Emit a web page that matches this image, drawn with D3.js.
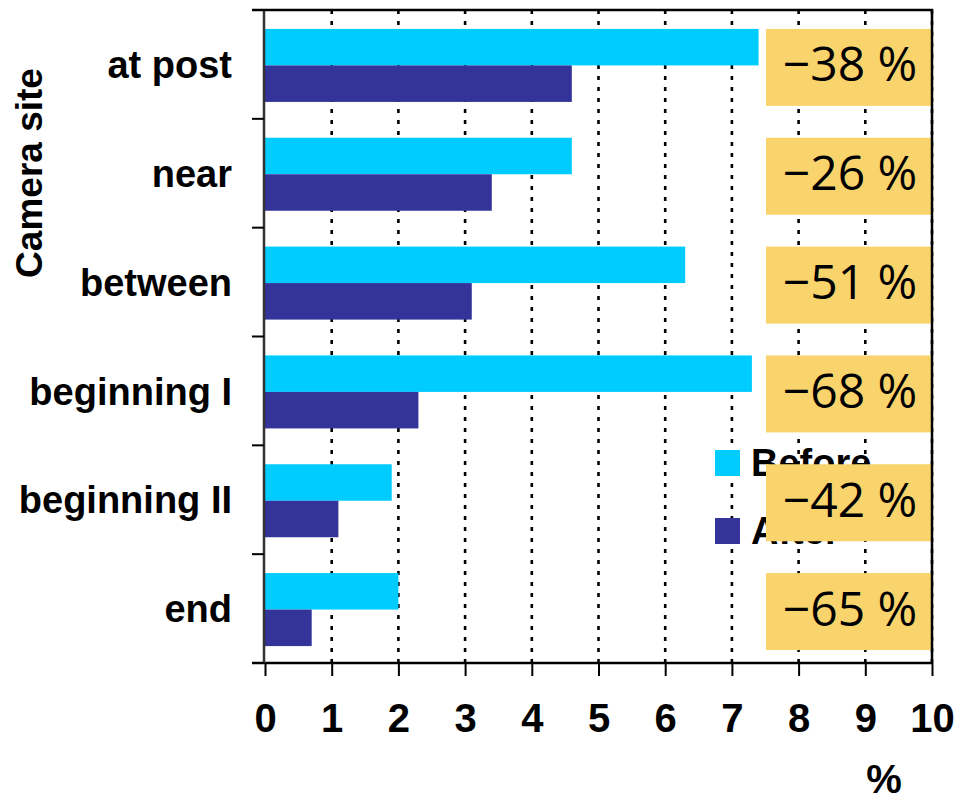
<!DOCTYPE html>
<html>
<head>
<meta charset="utf-8">
<script src="https://cdn.jsdelivr.net/npm/d3@7"></script>
<style>
  html, body { margin: 0; padding: 0; background: #fff; }
  svg { display: block; }
  .lbl { font-family: "Liberation Sans", Arial, sans-serif; font-weight: bold; fill: #000; }
  .chg { font-family: "Open Sans", "DejaVu Sans", sans-serif; fill: #000; }
</style>
</head>
<body>
<svg id="chart" width="955" height="796"></svg>
<script>
// Camera sites, top to bottom
const sites = ["at post", "near", "between", "beginning I", "beginning II", "end"];
// Share of records (%) before and after
const before = [7.4, 4.6, 6.3, 7.3, 1.9, 2.0];
const after  = [4.6, 3.4, 3.1, 2.3, 1.1, 0.7];
// Relative change printed beside each site
const changes = ["\u221238 %", "\u221226 %", "\u221251 %", "\u221268 %", "\u221242 %", "\u221265 %"];
const xTicks = [0, 1, 2, 3, 4, 5, 6, 7, 8, 9, 10];
const seriesNames = ["Before", "After"];
const colors = ["#00ccff", "#333399"];

const svg = d3.select("#chart");
const plotL = 265, plotR = 932, plotT = 10, plotB = 663;

const x = d3.scaleLinear().domain([0, 10]).range([plotL, plotR]);
const y = d3.scaleBand().domain(sites).range([plotT, plotB]);
const bw = y.bandwidth();
const groupH = 73;
const sub = d3.scaleBand().domain([0, 1]).range([0, groupH]);

// dotted vertical gridlines
svg.append("g").selectAll("line")
  .data(xTicks.slice(1))
  .join("line")
  .attr("x1", d => x(d)).attr("x2", d => x(d))
  .attr("y1", plotT).attr("y2", plotB)
  .attr("stroke", "#000").attr("stroke-width", 2.6)
  .attr("stroke-dasharray", "4,7");

// bars
const rows = sites.map((s, i) => ({ site: s, vals: [before[i], after[i]] }));
const g = svg.append("g");
rows.forEach(r => {
  const y0 = y(r.site) + (bw - groupH) / 2 + 1;
  r.vals.forEach((v, k) => {
    g.append("rect")
      .attr("x", x(0))
      .attr("y", y0 + sub(k))
      .attr("width", x(v) - x(0))
      .attr("height", sub.bandwidth())
      .attr("fill", colors[k]);
  });
});

// legend
const leg = svg.append("g");
seriesNames.forEach((n, k) => {
  const ly = 450 + k * 68;
  leg.append("rect").attr("x", 715).attr("y", ly).attr("width", 25).attr("height", 26).attr("fill", colors[k]);
  leg.append("text").attr("class", "lbl").attr("x", 751).attr("y", ly + 26)
    .attr("font-size", 38).text(n);
});

// change boxes
const bx = svg.append("g");
sites.forEach((s, i) => {
  const cy = y(s) + bw / 2 + 3;
  bx.append("rect")
    .attr("x", 766).attr("y", cy - 38.5)
    .attr("width", 166).attr("height", 77)
    .attr("fill", "#f9d36b");
  bx.append("text").attr("class", "chg")
    .attr("x", 850).attr("y", cy + 14)
    .attr("text-anchor", "middle")
    .attr("font-size", 48)
    .text(changes[i]);
});

// x axis
const xAxis = svg.append("g")
  .attr("transform", `translate(0,${plotB})`)
  .call(d3.axisBottom(x).tickValues(xTicks).tickSize(13).tickPadding(28).tickSizeOuter(0));
xAxis.select(".domain").attr("stroke", "#000").attr("stroke-width", 2.5).attr("d", `M${plotL - 13},0H${plotR + 1}`);
xAxis.selectAll(".tick line").attr("stroke", "#000").attr("stroke-width", 2);
xAxis.selectAll(".tick text")
  .attr("font-size", 40).attr("fill", "#000")
  .style("font-family", "'Liberation Sans', Arial, sans-serif").style("font-weight", "bold");

svg.append("text").attr("class", "lbl").attr("x", 884).attr("y", 793)
  .attr("text-anchor", "middle").attr("font-size", 40).text("%");

// y axis: labels centred on each band, ticks on band edges
const yAxis = svg.append("g").attr("transform", `translate(${plotL - 1},0)`)
  .call(d3.axisLeft(y).tickSize(0).tickPadding(32));
yAxis.select(".domain").attr("stroke", "#333").attr("stroke-width", 2.5).attr("d", `M0,${plotT}V${plotB}`);
yAxis.selectAll(".tick text")
  .attr("font-size", 38).attr("fill", "#000").attr("dy", "0.36em")
  .style("font-family", "'Liberation Sans', Arial, sans-serif").style("font-weight", "bold");

const edges = sites.map(s => y(s)).concat([plotB]);
svg.append("g").selectAll("line").data(edges).join("line")
  .attr("x1", plotL - 13).attr("x2", plotL - 1)
  .attr("y1", d => d).attr("y2", d => d)
  .attr("stroke", "#000").attr("stroke-width", 2);

// frame top and right
svg.append("path")
  .attr("d", `M${plotL - 13},${plotT}H${plotR}V${plotB}`)
  .attr("fill", "none").attr("stroke", "#000").attr("stroke-width", 2.5);

// axis title
svg.append("text").attr("class", "lbl")
  .attr("transform", `translate(42,173) rotate(-90)`)
  .attr("text-anchor", "middle").attr("font-size", 37).text("Camera site");
</script>
</body>
</html>
